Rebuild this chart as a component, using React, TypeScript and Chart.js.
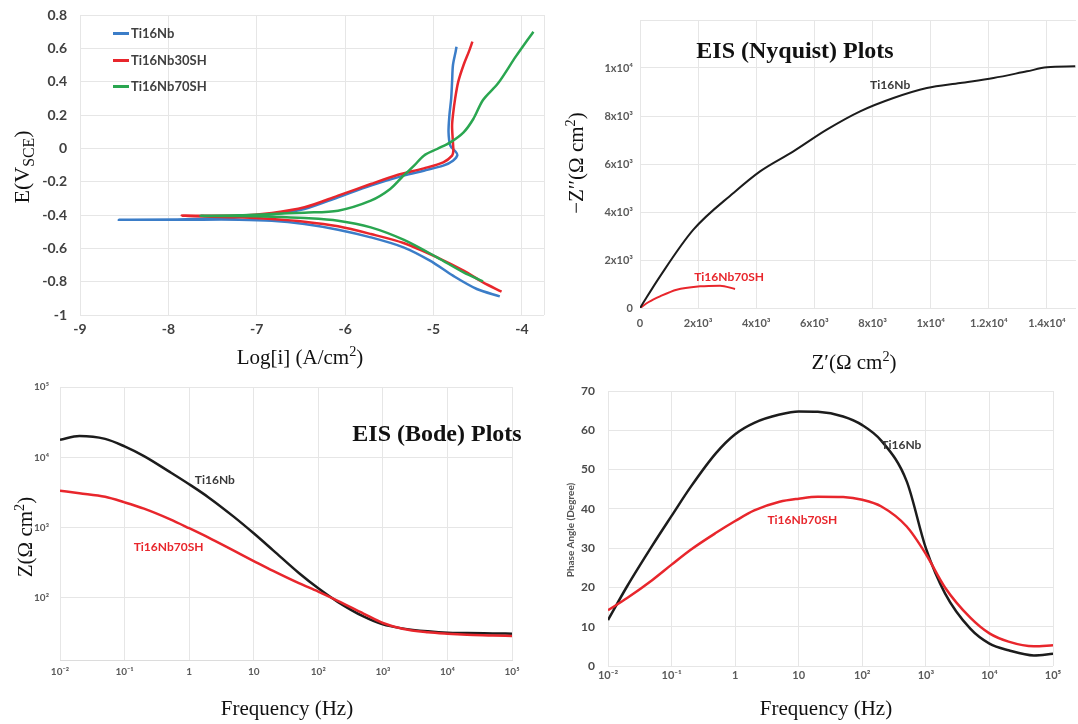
import React, { useEffect, useRef } from 'react';
import { Chart, registerables } from 'chart.js';
Chart.register(...registerables);

// ---------- Panel 1: polarization (Tafel) curves ----------
const tafelNbLogI = [-4.25, -4.51, -4.78, -5.04, -5.34, -5.71, -6.08, -6.46, -6.83, -7.2, -7.8, -8.56, -7.8, -7.2, -6.83, -6.46, -6.08, -5.71, -5.34, -5.11, -4.89, -4.78, -4.73, -4.76, -4.81, -4.83, -4.82, -4.8, -4.79, -4.78, -4.75, -4.74];
const tafelNbE = [-0.888, -0.844, -0.764, -0.674, -0.594, -0.534, -0.488, -0.454, -0.434, -0.428, -0.428, -0.428, -0.426, -0.412, -0.396, -0.364, -0.294, -0.224, -0.164, -0.134, -0.104, -0.074, -0.04, -0.014, 0.016, 0.096, 0.2, 0.3, 0.4, 0.5, 0.58, 0.61];
const tafel30LogI = [-4.23, -4.44, -4.66, -4.96, -5.34, -5.71, -6.08, -6.46, -6.83, -7.2, -7.85, -7.2, -6.83, -6.46, -6.08, -5.71, -5.41, -5.11, -4.89, -4.79, -4.776, -4.783, -4.79, -4.78, -4.755, -4.72, -4.66, -4.6, -4.56];
const tafel30E = [-0.86, -0.804, -0.734, -0.654, -0.568, -0.514, -0.468, -0.44, -0.424, -0.414, -0.404, -0.404, -0.388, -0.354, -0.284, -0.214, -0.16, -0.12, -0.084, -0.044, -0.014, 0.056, 0.136, 0.2, 0.3, 0.4, 0.5, 0.58, 0.64];
const tafel70LogI = [-4.44, -4.66, -4.96, -5.34, -5.71, -6.08, -6.46, -6.83, -7.2, -7.64, -7.2, -6.83, -6.46, -6.08, -5.71, -5.49, -5.34, -5.22, -5.11, -4.96, -4.81, -4.66, -4.55, -4.44, -4.27, -4.07, -3.87];
const tafel70E = [-0.798, -0.744, -0.654, -0.548, -0.474, -0.434, -0.418, -0.41, -0.406, -0.405, -0.402, -0.394, -0.386, -0.374, -0.314, -0.244, -0.164, -0.104, -0.044, -0.004, 0.036, 0.096, 0.176, 0.29, 0.39, 0.55, 0.7];
const tafelXTicks = [-9, -8, -7, -6, -5, -4, -3.75];
const tafelXLabels = ['-9', '-8', '-7', '-6', '-5', '-4', ''];
const tafelYTicks = [-1, -0.8, -0.6, -0.4, -0.2, 0, 0.2, 0.4, 0.6, 0.8];
const tafelYLabels = ['-1', '-0.8', '-0.6', '-0.4', '-0.2', '0', '0.2', '0.4', '0.6', '0.8'];
const tafelSeries = ['Ti16Nb', 'Ti16Nb30SH', 'Ti16Nb70SH'];

// ---------- Panel 2: Nyquist ----------
const nyqNbRe = [0, 689, 1836, 3213, 4131, 5278, 6425, 7573, 8720, 9868, 11015, 12163, 13310, 14000, 14975];
const nyqNbIm = [0, 1319, 3264, 4792, 5694, 6528, 7431, 8194, 8750, 9167, 9375, 9583, 9861, 10028, 10069];
const nyq70Re = [0, 300, 689, 1262, 2065, 2754, 3270];
const nyq70Im = [0, 250, 486, 764, 903, 931, 792];
const nyqXTicks = [0, 2000, 4000, 6000, 8000, 10000, 12000, 14000];
const nyqXLabels = ['0', '2x10³', '4x10³', '6x10³', '8x10³', '1x10⁴', '1.2x10⁴', '1.4x10⁴'];
const nyqYTicks = [0, 2000, 4000, 6000, 8000, 10000, 12000];
const nyqYLabels = ['0', '2x10³', '4x10³', '6x10³', '8x10³', '1x10⁴', ''];

// ---------- Panels 3 & 4: Bode ----------
const bodeFreq = [0.01, 0.02, 0.05, 0.1, 0.2, 0.5, 1, 2, 5, 10, 20, 50, 100, 200, 500, 1000, 2000, 5000, 10000, 20000, 50000, 100000];
const bodeNbZ = [17700, 20100, 18300, 14300, 10400, 6200, 4140, 2690, 1410, 830, 475, 226, 137, 88, 54.5, 42, 36.9, 33.5, 32, 31.7, 31.3, 31];
const bode70Z = [3360, 3090, 2750, 2290, 1860, 1320, 980, 720, 466, 335, 242, 162, 123, 91, 60, 44, 36.5, 32.5, 31, 30, 29.3, 28.7];
const phaseNb = [11.7, 20.3, 30.7, 38.2, 45.6, 54.2, 59.0, 61.9, 64.0, 64.8, 64.7, 63.5, 61.3, 57.3, 47.0, 30.0, 18.5, 9.5, 5.7, 4.0, 2.7, 3.1];
const phase70 = [14.2, 17.3, 21.9, 25.8, 29.6, 33.9, 36.9, 39.6, 41.8, 42.6, 43.1, 43.0, 42.3, 40.6, 35.5, 28.5, 20.0, 12.3, 8.3, 6.2, 5.0, 5.3];
const freqTicks = [0.01, 0.1, 1, 10, 100, 1000, 10000, 100000];
const freqLabels = ['10⁻²', '10⁻¹', '1', '10', '10²', '10³', '10⁴', '10⁵'];
const bodeZTicks = [100, 1000, 10000, 100000];
const bodeZLabels = ['10²', '10³', '10⁴', '10⁵'];
const phaseTicks = [0, 10, 20, 30, 40, 50, 60, 70];
const phaseLabels = ['0', '10', '20', '30', '40', '50', '60', '70'];
const eisSeries = ['Ti16Nb', 'Ti16Nb70SH'];

const BLUE = '#3b7dc8';
const RED = '#e8262c';
const GREEN = '#2aa650';
const BLACK = '#1c1c1c';
const GRID = '#e6e6e6';

const zip = (xs: number[], ys: number[]) => xs.map((x, i) => ({ x, y: ys[i] }));

const labelPlugin = {
  id: 'curveLabels',
  afterDatasetsDraw(chart: any, _a: any, opts: any) {
    const { ctx, scales } = chart;
    (opts.items || []).forEach((it: any) => {
      ctx.save();
      ctx.font = it.font;
      ctx.fillStyle = it.color;
      ctx.textAlign = 'center';
      ctx.textBaseline = 'middle';
      ctx.fillText(it.text, scales.x.getPixelForValue(it.x), scales.y.getPixelForValue(it.y));
      ctx.restore();
    });
  },
};

function makeAxis(type: string, min: number, max: number, values: number[], labels: string[], size: number, pad: number, font: any, color: string, border = false) {
  return {
    type,
    min,
    max,
    afterBuildTicks: (s: any) => {
      s.ticks = values.map((v) => ({ value: v }));
    },
    afterFit: (s: any) => {
      if (s.isHorizontal()) s.height = size;
      else s.width = size;
      s.paddingLeft = 0;
      s.paddingRight = 0;
      s.paddingTop = 0;
      s.paddingBottom = 0;
    },
    grid: { color: GRID, drawTicks: false, lineWidth: 1 },
    border: { display: border, color: '#dcdcdc' },
    ticks: {
      autoSkip: false,
      maxRotation: 0,
      minRotation: 0,
      padding: pad,
      color,
      font,
      callback: (_v: any, i: number) => labels[i],
    },
  };
}

function line(label: string, data: any[], color: string, width: number, tension: number, mono = false) {
  return {
    label,
    data,
    showLine: true,
    borderColor: color,
    backgroundColor: color,
    borderWidth: width,
    pointRadius: 0,
    tension,
    cubicInterpolationMode: mono ? 'monotone' : 'default',
    fill: false,
  };
}

function ChartBox({ left, top, width, height, config }: any) {
  const ref = useRef<HTMLCanvasElement>(null);
  useEffect(() => {
    const chart = new Chart(ref.current as HTMLCanvasElement, config);
    return () => chart.destroy();
  }, []);
  return (
    <canvas
      ref={ref}
      width={width}
      height={height}
      style={{ position: 'absolute', left, top, width, height }}
    />
  );
}

const baseOpts = (padding: any, scales: any, items: any[] = []) => ({
  animation: false,
  responsive: false,
  devicePixelRatio: 1,
  layout: { padding },
  scales,
  plugins: {
    legend: { display: false },
    tooltip: { enabled: false },
    curveLabels: { items },
  },
});

const tickFontBig = { family: 'Lato', size: 14, weight: 'bold' };
const tickFontSmall = { family: 'Lato', size: 11, weight: 'bold' };
const tickFontTiny = { family: 'Lato', size: 10, weight: 'bold' };
const annFont = 'bold 12px Lato';

const tafelConfig = {
  type: 'scatter',
  data: {
    datasets: [
      line(tafelSeries[2], zip(tafel70LogI, tafel70E), GREEN, 2.5, 0.3),
      line(tafelSeries[1], zip(tafel30LogI, tafel30E), RED, 2.5, 0.3),
      line(tafelSeries[0], zip(tafelNbLogI, tafelNbE), BLUE, 2.5, 0.3),
    ],
  },
  options: baseOpts({ left: 0, top: 15, right: 16, bottom: 0 }, {
    x: makeAxis('linear', -9, -3.75, tafelXTicks, tafelXLabels, 55, 6, tickFontBig, '#404040'),
    y: makeAxis('linear', -1, 0.8, tafelYTicks, tafelYLabels, 80, 13, tickFontBig, '#404040'),
  }),
  plugins: [labelPlugin],
};

const nyqConfig = {
  type: 'scatter',
  data: {
    datasets: [
      line(eisSeries[0], zip(nyqNbRe, nyqNbIm), BLACK, 2, 0.4, true),
      line(eisSeries[1], zip(nyq70Re, nyq70Im), RED, 2, 0.4, true),
    ],
  },
  options: baseOpts({ left: 0, top: 20, right: 2, bottom: 0 }, {
    x: makeAxis('linear', 0, 15000, nyqXTicks, nyqXLabels, 62, 9, tickFontSmall, '#5a5a5a'),
    y: makeAxis('linear', 0, 12000, nyqYTicks, nyqYLabels, 80, 7, tickFontSmall, '#5a5a5a'),
  }, [
    { text: 'Ti16Nb', x: 8606, y: 9306, color: '#3a3a3a', font: annFont },
    { text: 'Ti16Nb70SH', x: 3064, y: 1292, color: RED, font: annFont },
  ]),
  plugins: [labelPlugin],
};

const bodeConfig = {
  type: 'scatter',
  data: {
    datasets: [
      line(eisSeries[1], zip(bodeFreq, bode70Z), RED, 2.5, 0.4, true),
      line(eisSeries[0], zip(bodeFreq, bodeNbZ), BLACK, 2.5, 0.4, true),
    ],
  },
  options: baseOpts({ left: 0, top: 17, right: 48, bottom: 0 }, {
    x: makeAxis('logarithmic', 0.01, 100000, freqTicks, freqLabels, 64, 6, tickFontTiny, '#5a5a5a', true),
    y: makeAxis('logarithmic', 13.1, 100000, bodeZTicks, bodeZLabels, 60, 11, tickFontTiny, '#5a5a5a'),
  }, [
    { text: 'Ti16Nb', x: 2.5, y: 4760, color: '#3a3a3a', font: annFont },
    { text: 'Ti16Nb70SH', x: 0.48, y: 533, color: RED, font: annFont },
  ]),
  plugins: [labelPlugin],
};

const phaseConfig = {
  type: 'scatter',
  data: {
    datasets: [
      line(eisSeries[1], zip(bodeFreq, phase70), RED, 2.5, 0.4, true),
      line(eisSeries[0], zip(bodeFreq, phaseNb), BLACK, 2.5, 0.4, true),
    ],
  },
  options: baseOpts({ left: 0, top: 21, right: 25, bottom: 0 }, {
    x: makeAxis('logarithmic', 0.01, 100000, freqTicks, freqLabels, 58, 3, tickFontSmall, '#5a5a5a'),
    y: makeAxis('linear', 0, 70, phaseTicks, phaseLabels, 48, 13, { family: 'Lato', size: 12, weight: 'bold' }, '#4a4a4a'),
  }, [
    { text: 'Ti16Nb', x: 411, y: 56.2, color: '#3a3a3a', font: annFont },
    { text: 'Ti16Nb70SH', x: 11.4, y: 37.1, color: RED, font: annFont },
  ]),
  plugins: [labelPlugin],
};

const serif = '"Liberation Serif", "Times New Roman", serif';

function Txt({ x, y, rotate = false, size = 21, bold = false, family = serif, color = '#111', children }: any) {
  return (
    <div
      style={{
        position: 'absolute',
        left: x,
        top: y,
        transform: `translate(-50%, -50%)${rotate ? ' rotate(-90deg)' : ''}`,
        whiteSpace: 'nowrap',
        fontFamily: family,
        fontSize: size,
        fontWeight: bold ? 'bold' : 'normal',
        color,
        lineHeight: 1,
      }}
    >
      {children}
    </div>
  );
}

const subStyle = { fontSize: '0.72em', verticalAlign: '-0.3em', lineHeight: 0 };
const supStyle = { fontSize: '0.68em', verticalAlign: '0.5em', lineHeight: 0 };

function LegendItem({ y, color, text }: any) {
  return (
    <div style={{ position: 'absolute', left: 113, top: y - 9, height: 18, display: 'flex', alignItems: 'center' }}>
      <div style={{ width: 16, height: 3, background: color, marginRight: 2 }} />
      <span style={{ fontFamily: 'Lato', fontWeight: 'bold', fontSize: 13, color: '#404040' }}>{text}</span>
    </div>
  );
}

export default function App() {
  return (
    <div style={{ position: 'absolute', left: 0, top: 0, width: 1078, height: 724, background: '#fff', overflow: 'hidden' }}>
      <ChartBox left={0} top={0} width={560} height={370} config={tafelConfig} />
      <ChartBox left={560} top={0} width={518} height={370} config={nyqConfig} />
      <ChartBox left={0} top={370} width={560} height={354} config={bodeConfig} />
      <ChartBox left={560} top={370} width={518} height={354} config={phaseConfig} />

      <LegendItem y={33} color={BLUE} text={tafelSeries[0]} />
      <LegendItem y={60} color={RED} text={tafelSeries[1]} />
      <LegendItem y={86} color={GREEN} text={tafelSeries[2]} />

      <Txt x={22} y={167} rotate size={22}>
        E(V<span style={subStyle}>SCE</span>)
      </Txt>
      <Txt x={300} y={357}>
        Log[i] (A/cm<span style={supStyle}>2</span>)
      </Txt>

      <Txt x={795} y={50} bold size={24}>EIS (Nyquist) Plots</Txt>
      <Txt x={576} y={163} rotate>
        −Z′′(Ω cm<span style={supStyle}>2</span>)
      </Txt>
      <Txt x={854} y={362}>
        Z′(Ω cm<span style={supStyle}>2</span>)
      </Txt>

      <Txt x={437} y={433} bold size={24}>EIS (Bode) Plots</Txt>
      <Txt x={25} y={537} rotate>
        Z(Ω cm<span style={supStyle}>2</span>)
      </Txt>
      <Txt x={287} y={708}>Frequency (Hz)</Txt>

      <Txt x={570} y={530} rotate size={10} bold family="Lato" color="#555">
        Phase Angle (Degree)
      </Txt>
      <Txt x={826} y={708}>Frequency (Hz)</Txt>
    </div>
  );
}
